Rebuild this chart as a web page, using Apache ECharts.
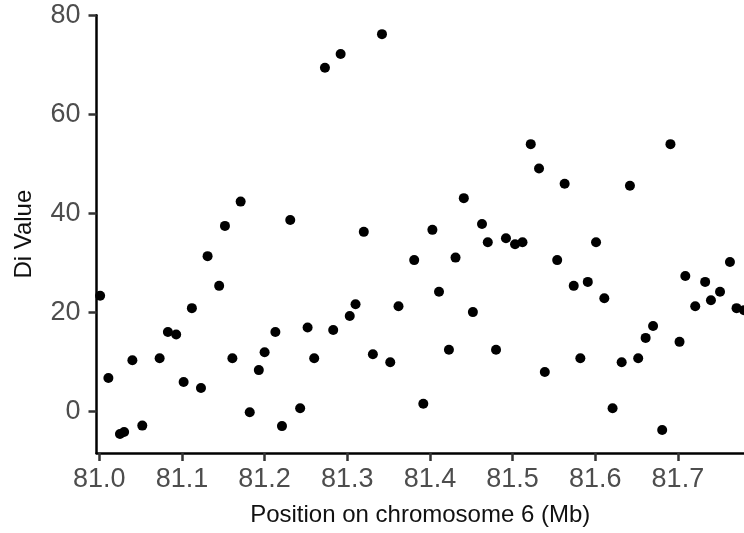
<!DOCTYPE html>
<html>
<head>
<meta charset="utf-8">
<script src="https://cdn.jsdelivr.net/npm/echarts@6/dist/echarts.min.js"></script>
<style>
  html, body { margin: 0; padding: 0; background: #fff; }
  #chart { width: 744px; height: 533px; }
</style>
</head>
<body>
<div id="chart"></div>
<script>
// Marker positions (Mb) and Di values along chromosome 6
const positionMb = [
  81.001, 81.011, 81.025, 81.030, 81.040, 81.052, 81.073, 81.083, 81.093, 81.102,
  81.112, 81.123, 81.131, 81.145, 81.152, 81.161, 81.171, 81.182, 81.193, 81.200,
  81.213, 81.221, 81.231, 81.243, 81.252, 81.260, 81.273, 81.283, 81.292, 81.303,
  81.310, 81.320, 81.331, 81.342, 81.352, 81.362, 81.381, 81.392, 81.403, 81.411,
  81.423, 81.431, 81.441, 81.452, 81.463, 81.470, 81.480, 81.492, 81.503, 81.512,
  81.522, 81.532, 81.539, 81.554, 81.563, 81.574, 81.582, 81.591, 81.601, 81.611,
  81.621, 81.632, 81.642, 81.652, 81.661, 81.670, 81.681, 81.691, 81.702, 81.709,
  81.721, 81.733, 81.740, 81.751, 81.763, 81.771, 81.780
];
const diValue = [
  23.4, 6.8, -4.5, -4.1, 10.4, -2.8, 10.8, 16.1, 15.6, 6.0,
  20.9, 4.8, 31.4, 25.4, 37.5, 10.8, 42.4, -0.1, 8.4, 12.0,
  16.1, -2.9, 38.7, 0.7, 17.0, 10.8, 69.4, 16.5, 72.2, 19.3,
  21.7, 36.3, 11.6, 76.2, 10.0, 21.3, 30.6, 1.6, 36.7, 24.2,
  12.5, 31.1, 43.1, 20.1, 37.9, 34.2, 12.5, 35.0, 33.8, 34.2,
  54.0, 49.1, 8.0, 30.6, 46.0, 25.4, 10.8, 26.2, 34.2, 22.9,
  0.7, 10.0, 45.6, 10.8, 14.9, 17.3, -3.7, 54.0, 14.1, 27.4,
  21.3, 26.2, 22.5, 24.2, 30.2, 20.9, 20.5
];
const xTicks = [81.0, 81.1, 81.2, 81.3, 81.4, 81.5, 81.6, 81.7];
const yTicks = [0, 20, 40, 60, 80];

const points = positionMb.map((x, i) => [x, diValue[i]]);

const chart = echarts.init(document.getElementById('chart'), null, { renderer: 'canvas' });

const tickLabelStyle = {
  color: '#4d4d4d',
  fontFamily: 'Liberation Sans, Arial, sans-serif',
  fontSize: 27
};
const titleStyle = {
  color: '#111',
  fontFamily: 'Liberation Sans, Arial, sans-serif',
  fontSize: 24
};
const lineStyle = { color: '#000', width: 2.5 };

chart.setOption({
  animation: false,
  backgroundColor: '#fff',
  grid: { left: 96.5, top: 15.3, right: 0, bottom: 80, containLabel: false },
  xAxis: {
    type: 'value',
    min: 80.9966,
    max: 81.78,
    name: 'Position on chromosome 6 (Mb)',
    nameLocation: 'middle',
    nameGap: 50,
    nameTextStyle: titleStyle,
    axisLine: { show: true, onZero: false, lineStyle: lineStyle },
    axisTick: { show: true, length: 8, lineStyle: { color: '#333', width: 2.5 }, customValues: xTicks },
    axisLabel: Object.assign({ margin: 13, customValues: xTicks, formatter: v => v.toFixed(1) }, tickLabelStyle),
    splitLine: { show: false }
  },
  yAxis: {
    type: 'value',
    min: -8.33,
    max: 80,
    name: 'Di Value',
    nameLocation: 'middle',
    nameGap: 60,
    nameRotate: 90,
    nameTextStyle: titleStyle,
    axisLine: { show: true, onZero: false, lineStyle: lineStyle },
    axisTick: { show: true, length: 8, lineStyle: { color: '#333', width: 2.5 }, customValues: yTicks },
    axisLabel: Object.assign({ margin: 16, customValues: yTicks }, tickLabelStyle),
    splitLine: { show: false }
  },
  series: [{
    type: 'scatter',
    data: points,
    symbol: 'circle',
    symbolSize: 10,
    clip: false,
    itemStyle: { color: '#000', opacity: 1 }
  }]
});
</script>
</body>
</html>
